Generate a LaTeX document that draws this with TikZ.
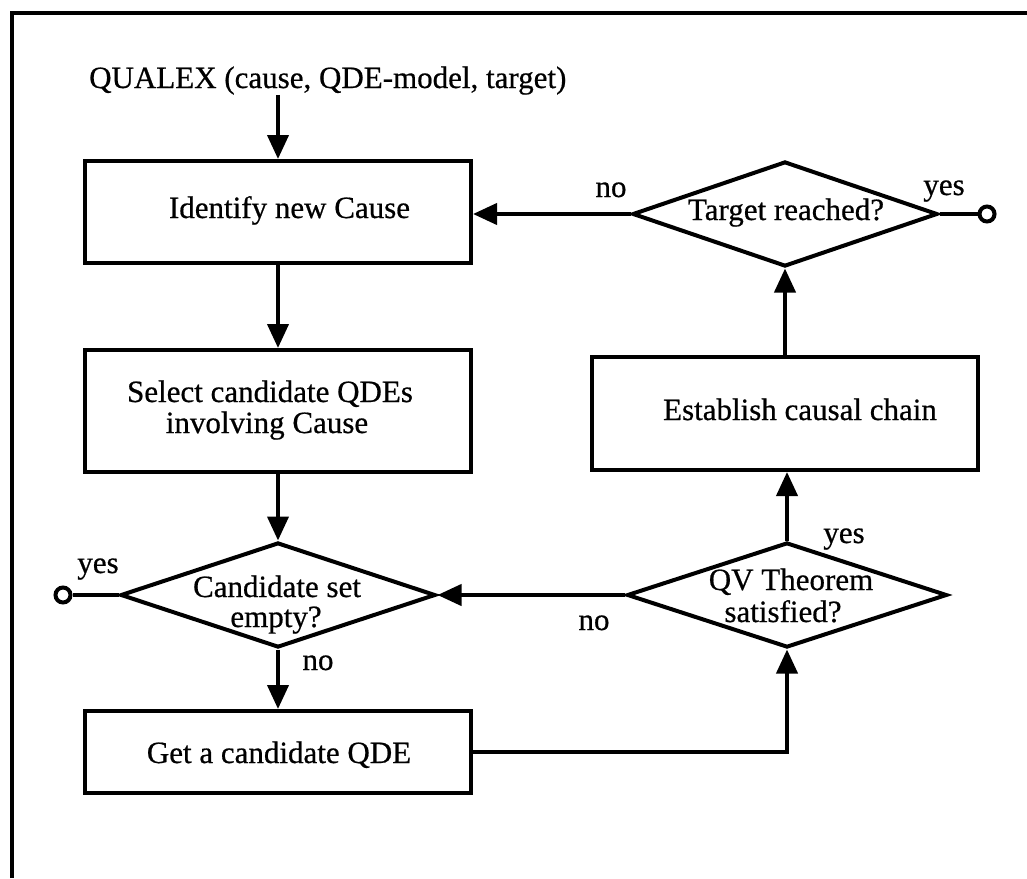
\documentclass[tikz,border=0pt]{standalone}
\usepackage{fontspec}
\setmainfont[FakeBold=0.6]{Liberation Serif}
\usetikzlibrary{arrows.meta,shapes.geometric}
\begin{document}
\begin{tikzpicture}[x=1pt,y=-1pt,
  lw/.style={line width=4pt},
  box/.style={draw, lw, rectangle, inner sep=0pt, minimum width=386pt},
  dia/.style={draw, lw, diamond, inner sep=0pt, minimum width=#1, minimum height=105pt},
  arr/.style={lw, -{Triangle[width=21pt,length=24pt]}},
  txt/.style={font=\fontsize{31}{32}\selectfont, inner sep=0pt, anchor=base},
  endc/.style={draw, lw, circle, inner sep=0pt, minimum size=15pt, fill=white}]
\useasboundingbox (0,0) rectangle (1027,878);
% frame
\draw[lw] (12,878) -- (12,13) -- (1027,13);
% title
\node[txt, anchor=base west] (t) at (89,88) {QUALEX (cause, QDE-model, target)};
\coordinate (ax) at (278,0);
% boxes
\node[box, minimum height=102pt] (b1) at (278,212) {};
\node[txt] (b1t) at (289.5,218) {Identify new Cause};
\node[box, minimum height=122pt] (b2) at (278,411) {};
\node[txt] (b2t) at (270,402) {Select candidate QDEs};
\node[txt] (b2u) at (267,433) {involving Cause};
\node[box, minimum height=82pt] (b3) at (278,752) {};
\node[txt] (b3t) at (279,763) {Get a candidate QDE};
\node[box, minimum height=113pt] (b4) at (785,413.5) {};
\node[txt] (b4t) at (800,420) {Establish causal chain};
% diamonds
\node[dia=315pt] (d1) at (278,595) {};
\node[txt] (d1t) at (277,597) {Candidate set};
\node[txt] (d1u) at (276,627) {empty?};
\node[dia=320pt] (d2) at (787,595) {};
\node[txt] (d2t) at (791,590) {QV Theorem};
\node[txt] (d2u) at (783,622) {satisfied?};
\node[dia=305pt] (d3) at (785,214) {};
\node[txt] (d3t) at (786,220) {Target reached?};
% end circles
\node[endc] (c1) at (63,595) {};
\node[endc] (c3) at (987,214) {};
% labels
\node[txt] (l1) at (98,573) {yes};
\node[txt] (l2) at (318,670) {no};
\node[txt] (l3) at (844,543) {yes};
\node[txt] (l4) at (594,630) {no};
\node[txt] (l5) at (611,197) {no};
\node[txt] (l6) at (944,195) {yes};
% connectors
\draw[arr] (t.south -| ax) -- (b1.north -| ax);
\draw[arr] (b1.south -| ax) -- (b2.north -| ax);
\draw[arr] (b2.south -| ax) -- (d1.north);
\draw[arr] (d1.south) -- (b3.north -| d1.south);
\draw[arr] (b3.east) -| (d2.south);
\draw[arr] (d2.west) -- (d1.east);
\draw[arr] (d2.north) -- (b4.south -| d2.north);
\draw[arr] (b4.north -| d3.south) -- (d3.south);
\draw[arr] (d3.west) -- (b1.east |- d3.west);
\draw[lw] (d3.east) -- (c3.west);
\draw[lw] (d1.west) -- (c1.east);
\end{tikzpicture}
\end{document}
